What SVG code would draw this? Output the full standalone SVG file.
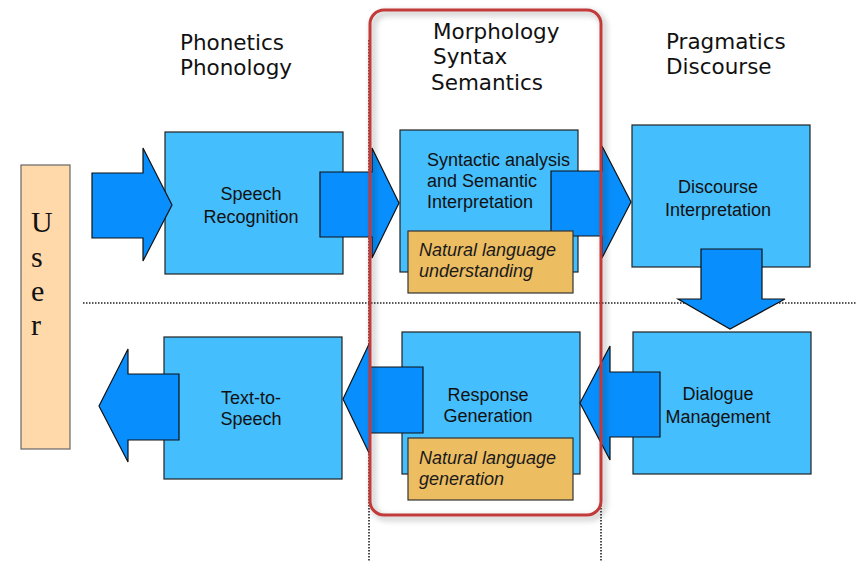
<svg xmlns="http://www.w3.org/2000/svg" width="856" height="562" viewBox="0 0 856 562">
<style>
.box{fill:#45BEFD;stroke:#222;stroke-width:1.2}
.note{fill:#EDBD62;stroke:#333;stroke-width:1.2}
.arrow{fill:#088FFD;stroke:#111;stroke-width:1.2;stroke-linejoin:miter}
.lbl{font-family:"Liberation Sans",Arial,sans-serif;font-size:18px;fill:#111}
.it{font-style:italic;fill:#1a1a1a}
.hdr{font-family:"DejaVu Sans",Verdana,sans-serif;font-size:21.5px;fill:#111}
.usr{font-family:"Liberation Serif","Times New Roman",serif;font-size:30px;fill:#111}
.dot{stroke:#222;stroke-width:1.6;stroke-dasharray:1.5 1.5;fill:none}
</style>
<defs>
<filter id="sh" x="-10%" y="-10%" width="130%" height="120%">
<feDropShadow dx="3" dy="3" stdDeviation="3" flood-color="#000" flood-opacity="0.35"/>
</filter>
</defs>
<rect width="856" height="562" fill="#fff"/>
<g id="guides">
<line class="dot" x1="83" y1="303" x2="856" y2="303"/>
<line class="dot" x1="369" y1="40" x2="369" y2="562"/>
<line class="dot" x1="601" y1="40" x2="601" y2="562"/>
</g>
<g id="headers">
<text class="hdr" x="180" y="50">Phonetics</text>
<text class="hdr" x="180" y="75">Phonology</text>
<text class="hdr" x="433" y="39">Morphology</text>
<text class="hdr" x="433" y="64">Syntax</text>
<text class="hdr" x="431" y="90">Semantics</text>
<text class="hdr" x="666" y="49">Pragmatics</text>
<text class="hdr" x="666" y="74">Discourse</text>
</g>
<g id="user">
<rect x="21" y="165" width="49" height="284" fill="#FFD9AA" stroke="#666" stroke-width="1.2"/>
<text class="usr" x="31" y="232">U</text>
<text class="usr" x="31" y="267">s</text>
<text class="usr" x="31" y="301">e</text>
<text class="usr" x="31" y="335">r</text>
</g>
<g id="speech-recognition">
<rect class="box" x="165" y="132" width="178" height="142"/>
<text class="lbl" x="251" y="200" text-anchor="middle">Speech</text>
<text class="lbl" x="251" y="223" text-anchor="middle">Recognition</text>
</g>
<g id="syntactic-analysis">
<rect class="box" x="400" y="130" width="178" height="142"/>
<text class="lbl" x="427" y="166">Syntactic analysis</text>
<text class="lbl" x="427" y="187">and Semantic</text>
<text class="lbl" x="427" y="208">Interpretation</text>
</g>
<g id="discourse-interpretation">
<rect class="box" x="632" y="125" width="178" height="142"/>
<text class="lbl" x="718" y="193" text-anchor="middle">Discourse</text>
<text class="lbl" x="718" y="216" text-anchor="middle">Interpretation</text>
</g>
<g id="text-to-speech">
<rect class="box" x="164" y="337" width="178" height="142"/>
<text class="lbl" x="251" y="404" text-anchor="middle">Text-to-</text>
<text class="lbl" x="251" y="425" text-anchor="middle">Speech</text>
</g>
<g id="response-generation">
<rect class="box" x="402" y="332" width="178" height="142"/>
<text class="lbl" x="488" y="401" text-anchor="middle">Response</text>
<text class="lbl" x="488" y="422" text-anchor="middle">Generation</text>
</g>
<g id="dialogue-management">
<rect class="box" x="633" y="332" width="178" height="142"/>
<text class="lbl" x="718" y="400" text-anchor="middle">Dialogue</text>
<text class="lbl" x="718" y="423" text-anchor="middle">Management</text>
</g>
<g id="connectors">
<polygon class="arrow" points="92,173 143,173 143,148 172,205 143,261 143,238 92,238"/>
<polygon class="arrow" points="320,172 372,172 372,148 399,203 372,258 372,237 320,237"/>
<polygon class="arrow" points="551,171 602,171 602,146 631,202 602,258 602,236 551,236"/>
<polygon class="arrow" points="701,249 762,249 762,299 785,299 730,329 678,299 701,299"/>
<polygon class="arrow" points="660,372 610,372 610,346 580,403 610,460 610,437 660,437"/>
<polygon class="arrow" points="423,367 370,367 370,342 343,399 370,455 370,433 423,433"/>
<polygon class="arrow" points="179,374 128,374 128,349 99,406 128,462 128,440 179,440"/>
</g>
<g id="nlu">
<rect class="note" x="408" y="231" width="165" height="62"/>
<text class="lbl it" x="419" y="256">Natural language</text>
<text class="lbl it" x="419" y="277">understanding</text>
</g>
<g id="nlg">
<rect class="note" x="408" y="438" width="165" height="62"/>
<text class="lbl it" x="419" y="464">Natural language</text>
<text class="lbl it" x="419" y="485">generation</text>
</g>
<g id="nl-frame">
<rect x="370" y="10" width="231" height="505" rx="14" fill="none" stroke="#C13B3B" stroke-width="3" filter="url(#sh)"/>
</g>
</svg>
